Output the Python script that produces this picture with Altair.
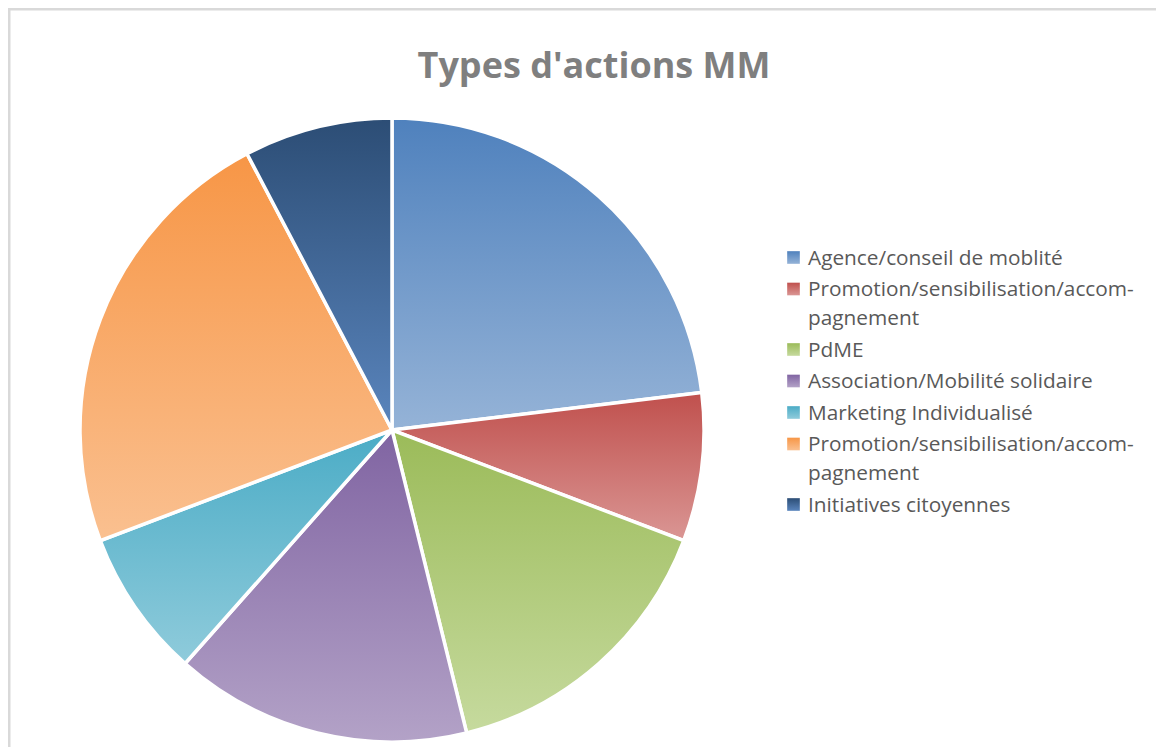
import altair as alt
import pandas as pd

# ---- data ----
categories = [
    "Agence/conseil de moblité",
    "Promotion/sensibilisation/accom-\npagnement",
    "PdME",
    "Association/Mobilité solidaire",
    "Marketing Individualisé",
    "Promotion/sensibilisation/accom-\npagnement",
    "Initiatives citoyennes",
]
values = [3, 1, 2, 2, 1, 3, 1]
top_colors = ["#4F81BD", "#C0504D", "#9BBB59", "#8064A2", "#4BACC6", "#F79646", "#2C4D75"]
bottom_colors = ["#95B3D7", "#DA9694", "#C6DA9E", "#B3A2C7", "#8FCBDB", "#FAC090", "#5A85BD"]
title_text = "Types d'actions MM"

df = pd.DataFrame({
    "idx": list(range(1, len(categories) + 1)),
    "label": categories,
    "value": values,
})

W, H = 1148, 739
CX, CY, R = 384, 422, 312

def grad(top, bottom):
    return alt.Gradient(
        gradient="linear", x1=0, y1=0, x2=0, y2=1,
        stops=[alt.GradientStop(color=top, offset=0), alt.GradientStop(color=bottom, offset=1)],
    )

base = (
    alt.Chart(df)
    .transform_joinaggregate(total="sum(value)")
    .transform_window(cum="sum(value)", sort=[alt.SortField("idx")], frame=[None, 0])
    .transform_calculate(f1="datum.cum / datum.total", f0="(datum.cum - datum.value) / datum.total")
)

theta_scale = alt.Scale(domain=[0, 1])

legend_base = (
    alt.Chart(df)
    .transform_calculate(nl="length(split(datum.label, '\\n')) - 1")
    .transform_window(cumnl="sum(nl)", sort=[alt.SortField("idx")], frame=[None, 0])
    .transform_calculate(ypos="249.5 + (datum.idx - 1) * 31.5 + (datum.cumnl - datum.nl) * 29")
)

layers = []
for i, (t, b) in enumerate(zip(top_colors, bottom_colors), start=1):
    layers.append(
        base.transform_filter(alt.datum.idx == i)
        .mark_arc(fill=grad(t, b), stroke="white", strokeWidth=3.5, radius=R)
        .encode(
            theta=alt.Theta("f0:Q", scale=theta_scale),
            theta2="f1:Q",
            x=alt.value(CX),
            y=alt.value(CY),
        )
    )
    layers.append(
        legend_base.transform_filter(alt.datum.idx == i)
        .mark_square(fill=grad(t, b), size=160, opacity=1, strokeWidth=0)
        .encode(x=alt.value(785.5), y=alt.Y("ypos:Q", scale=None))
    )

labels = legend_base.mark_text(
    align="left", baseline="alphabetic", dy=7, lineBreak="\n", lineHeight=29,
    font="Open Sans", fontSize=20.8, color="#595959",
).encode(x=alt.value(800), y=alt.Y("ypos:Q", scale=None), text="label:N")
layers.append(labels)

title = alt.Chart(pd.DataFrame({"t": [title_text]})).mark_text(
    align="center", baseline="alphabetic", font="Open Sans", fontWeight="bold",
    fontSize=36, color="#7F7F7F",
).encode(x=alt.value(586), y=alt.value(70), text="t:N")
layers.append(title)

border_top = alt.Chart(pd.DataFrame({"a": [0]})).mark_rule(color="#D9D9D9", strokeWidth=2.5).encode(
    x=alt.value(0), x2=alt.value(W), y=alt.value(1.25))
border_left = alt.Chart(pd.DataFrame({"a": [0]})).mark_rule(color="#D9D9D9", strokeWidth=2.5).encode(
    x=alt.value(1.25), y=alt.value(0), y2=alt.value(H))
layers += [border_top, border_left]

chart = (
    alt.layer(*layers)
    .properties(width=W, height=H, padding=0, autosize=alt.AutoSizeParams(type="none"))
    .configure_view(stroke=None)
)

chart.save("out.html", embed_options={"renderer": "svg", "actions": False})
